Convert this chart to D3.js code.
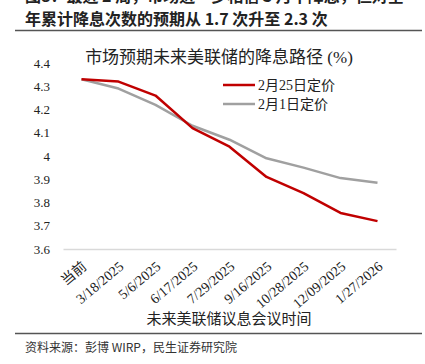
<!DOCTYPE html>
<html>
<head>
<meta charset="utf-8">
<script src="https://cdn.jsdelivr.net/npm/d3@7"></script>
<style>
  body { margin: 0; background: #fff; }
  svg { display: block; }
</style>
</head>
<body>
<div id="chart"></div>
<script>
// meeting dates (x categories)
var meetings = ["当前", "3/18/2025", "5/6/2025", "6/17/2025", "7/29/2025",
                "9/16/2025", "10/28/2025", "12/09/2025", "1/27/2026"];
// implied policy rate, priced 25 Feb
var feb25 = [4.33, 4.32, 4.26, 4.12, 4.04, 3.91, 3.84, 3.755, 3.72];
// implied policy rate, priced 1 Feb
var feb1 = [4.33, 4.29, 4.22, 4.13, 4.07, 3.99, 3.95, 3.905, 3.885];
var yTicks = [3.6, 3.7, 3.8, 3.9, 4, 4.1, 4.2, 4.3, 4.4];
var seriesNames = ["2月25日定价", "2月1日定价"];
var seriesColors = ["#c00000", "#a0a0a0"];

var W = 425, H = 364;
var serif = "'Liberation Serif', 'Times New Roman', 'Noto Sans CJK SC', serif";
var sans = "'Noto Sans CJK SC', 'Noto Sans', sans-serif";

var svg = d3.select("#chart").append("svg")
    .attr("width", W)
    .attr("height", H);

// report heading (first line is clipped by the page edge)
svg.append("text")
    .attr("x", 25).attr("y", 2)
    .style("font-family", sans).style("font-size", "16px").style("font-weight", "bold")
    .attr("fill", "#222")
    .text("图8：最近 2 周，市场进一步相信 3 月不降息，但对全");
svg.append("text")
    .attr("x", 25).attr("y", 25)
    .style("font-family", sans).style("font-size", "16px").style("font-weight", "bold")
    .attr("fill", "#222")
    .text("年累计降息次数的预期从 1.7 次升至 2.3 次");

svg.append("line")
    .attr("x1", 15).attr("x2", 422).attr("y1", 30.5).attr("y2", 30.5)
    .attr("stroke", "#555").attr("stroke-width", 1.5);
svg.append("line")
    .attr("x1", 15).attr("x2", 422).attr("y1", 333.5).attr("y2", 333.5)
    .attr("stroke", "#555").attr("stroke-width", 1.5);

svg.append("text")
    .attr("x", 25).attr("y", 352)
    .style("font-family", sans).style("font-size", "12px")
    .attr("fill", "#333")
    .text("资料来源：彭博 WIRP，民生证券研究院");

// plot area
var plotLeft = 63, plotRight = 396, plotTop = 63, plotBottom = 249;

var x = d3.scaleBand()
    .domain(meetings)
    .range([plotLeft, plotRight]);

var y = d3.scaleLinear()
    .domain([3.6, 4.4])
    .range([plotBottom, plotTop]);

// chart title
svg.append("text")
    .attr("x", 219).attr("y", 63)
    .attr("text-anchor", "middle")
    .style("font-family", serif).style("font-size", "17px")
    .attr("fill", "#222")
    .text("市场预期未来美联储的降息路径 (%)");

// y axis labels only
var yAxis = svg.append("g")
    .attr("transform", "translate(" + plotLeft + ",0)")
    .call(d3.axisLeft(y).tickValues(yTicks).tickSize(0).tickPadding(13)
        .tickFormat(function(d) { return String(+d.toFixed(1)); }));
yAxis.select(".domain").remove();
yAxis.selectAll("text")
    .style("font-family", serif).style("font-size", "13px")
    .attr("fill", "#222");

// x axis
var xAxis = svg.append("g")
    .attr("transform", "translate(0," + plotBottom + ")")
    .call(d3.axisBottom(x).tickSize(0).tickPadding(0));
xAxis.select(".domain").attr("stroke", "#d9d9d9").attr("stroke-width", 1.5);
xAxis.selectAll("text")
    .style("font-family", serif).style("font-size", "14px")
    .attr("fill", "#222")
    .attr("text-anchor", "end")
    .attr("y", 0)
    .attr("dy", "0")
    .attr("transform", "translate(6,19) rotate(-40)");

svg.append("text")
    .attr("x", 229).attr("y", 324)
    .attr("text-anchor", "middle")
    .style("font-family", serif).style("font-size", "15px")
    .attr("fill", "#222")
    .text("未来美联储议息会议时间");

var line = d3.line()
    .x(function(d, i) { return x(meetings[i]) + x.bandwidth() / 2; })
    .y(function(d) { return y(d); });

// gray first so red sits on top
[feb1, feb25].forEach(function(vals, k) {
    svg.append("path")
        .datum(vals)
        .attr("fill", "none")
        .attr("stroke", k === 0 ? seriesColors[1] : seriesColors[0])
        .attr("stroke-width", 2.5)
        .attr("stroke-linejoin", "round")
        .attr("d", line);
});

// legend
var legend = svg.append("g").attr("transform", "translate(223,85)");
seriesNames.forEach(function(name, i) {
    var g = legend.append("g").attr("transform", "translate(0," + (i * 19) + ")");
    g.append("line")
        .attr("x1", 0).attr("x2", 32)
        .attr("stroke", seriesColors[i]).attr("stroke-width", 2.5);
    g.append("text")
        .attr("x", 35).attr("y", 5)
        .style("font-family", serif).style("font-size", "14px")
        .attr("fill", "#222")
        .text(name);
});
</script>
</body>
</html>
